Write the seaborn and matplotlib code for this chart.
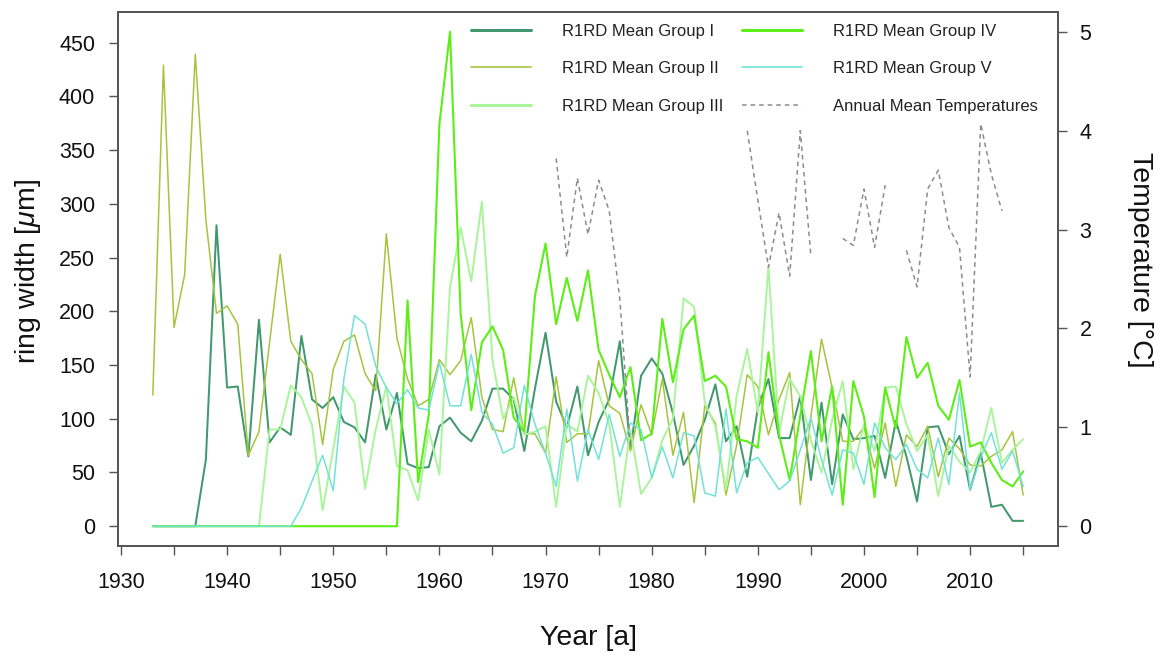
import numpy as np
import pandas as pd
import matplotlib
matplotlib.use("Agg")
import matplotlib.pyplot as plt
from matplotlib.lines import Line2D
import seaborn as sns

years = list(range(1933, 2016))

group_i = [0, 0, 0, 0, 0, 62, 280, 129, 130, 65,
           192, 78, 92, 85, 177, 118, 110, 120, 97, 92,
           78, 141, 90, 124, 58, 54, 55, 93, 101, 87,
           79, 98, 128, 128, 118, 70, 128, 180, 116, 92,
           130, 66, 97, 118, 172, 72, 140, 156, 142, 105,
           57, 75, 99, 132, 79, 93, 46, 110, 137, 82,
           82, 121, 43, 115, 39, 104, 81, 82, 84, 45,
           98, 65, 23, 92, 93, 67, 84, 34, 68, 18,
           20, 5, 5]
group_ii = [122, 429, 185, 234, 439, 285, 198, 205, 188, 66,
            88, 171, 253, 172, 155, 142, 76, 146, 172, 178,
            142, 126, 272, 175, 137, 112, 118, 155, 141, 154,
            194, 120, 90, 88, 138, 86, 86, 68, 139, 78,
            86, 86, 154, 112, 105, 70, 113, 85, 137, 66,
            106, 22, 112, 96, 29, 75, 141, 130, 85, 118,
            143, 20, 102, 174, 129, 79, 79, 92, 54, 96,
            37, 85, 74, 93, 46, 82, 72, 57, 56, 65,
            71, 88, 29]
group_iii = [0, 0, 0, 0, 0, 0, 0, 0, 0, 0,
             0, 90, 90, 131, 120, 94, 15, 72, 130, 115,
             35, 90, 130, 56, 52, 24, 90, 48, 222, 278,
             228, 302, 155, 100, 120, 85, 88, 93, 18, 95,
             88, 140, 124, 95, 18, 90, 30, 45, 80, 100,
             212, 204, 115, 93, 34, 121, 165, 106, 242, 87,
             137, 121, 80, 50, 99, 135, 53, 95, 70, 129,
             130, 95, 70, 85, 28, 75, 60, 50, 70, 110,
             59, 71, 81]
group_iv = [0, 0, 0, 0, 0, 0, 0, 0, 0, 0,
            0, 0, 0, 0, 0, 0, 0, 0, 0, 0,
            0, 0, 0, 0, 210, 41, 104, 374, 460, 198,
            108, 171, 186, 164, 101, 88, 214, 263, 188, 231,
            191, 238, 164, 141, 120, 148, 80, 86, 193, 134,
            183, 196, 135, 140, 130, 81, 79, 73, 162, 85,
            43, 103, 163, 79, 130, 20, 135, 102, 27, 129,
            91, 176, 138, 152, 112, 99, 136, 74, 78, 59,
            43, 37, 51]
group_v = [0, 0, 0, 0, 0, 0, 0, 0, 0, 0,
           0, 0, 0, 0, 17, 42, 66, 33, 137, 196,
           188, 149, 129, 114, 127, 110, 108, 152, 112, 112,
           160, 106, 95, 68, 73, 131, 95, 68, 37, 109,
           42, 90, 62, 104, 65, 96, 90, 45, 74, 45,
           87, 84, 31, 28, 109, 31, 59, 64, 49, 34,
           42, 71, 101, 62, 29, 71, 68, 39, 96, 73,
           62, 76, 53, 45, 82, 39, 124, 34, 64, 87,
           53, 70, 37]

nan = np.nan
temperature = [nan, nan, nan, nan, nan, nan, nan, nan, nan, nan,
               nan, nan, nan, nan, nan, nan, nan, nan, nan, nan,
               nan, nan, nan, nan, nan, nan, nan, nan, nan, nan,
               nan, nan, nan, nan, nan, nan, nan, nan, 3.72, 2.72,
               3.52, 2.95, 3.50, 3.19, 2.29, 0.80, nan, nan, nan, nan,
               nan, nan, nan, nan, nan, nan, 4.00, 3.30, 2.62, 3.17,
               2.53, 4.00, 2.73, nan, nan, 2.91, 2.84, 3.41, 2.82, 3.45,
               nan, 2.79, 2.42, 3.41, 3.60, 3.02, 2.82, 1.51, 4.07, 3.56,
               3.19, nan, nan]

group_names = ["R1RD Mean Group I", "R1RD Mean Group II", "R1RD Mean Group III",
               "R1RD Mean Group IV", "R1RD Mean Group V"]
temp_name = "Annual Mean Temperatures"

colors = {
    group_names[0]: "#42996f",
    group_names[1]: "#a6c43c",
    group_names[2]: "#aaf59c",
    group_names[3]: "#5cee16",
    group_names[4]: "#72e2d8",
}
widths = {
    group_names[0]: 1.45,
    group_names[1]: 1.1,
    group_names[2]: 1.4,
    group_names[3]: 1.5,
    group_names[4]: 1.1,
}
temp_color = "#8c8c8c"
temp_dash = (0, (3.0, 2.6))

series = [group_i, group_ii, group_iii, group_iv, group_v]
rings = pd.concat(
    [pd.DataFrame({"year": years, "width": vals, "group": name})
     for name, vals in zip(group_names, series)],
    ignore_index=True,
)

temp = pd.DataFrame({"year": years, "temp": temperature})
temp["segment"] = temp["temp"].isna().cumsum()
temp = temp.dropna()

sns.set_theme(style="white")
plt.rcParams["font.family"] = ["Liberation Sans", "DejaVu Sans"]
plt.rcParams["mathtext.fontset"] = "custom"
plt.rcParams["mathtext.it"] = "Liberation Sans:italic"
plt.rcParams["mathtext.rm"] = "Liberation Sans"

W, H = 1160, 657
fig = plt.figure(figsize=(W / 100, H / 100), dpi=100)
fig.patch.set_facecolor("white")
ax = fig.add_axes([118 / W, 1 - 546 / H, 940 / W, 534 / H])

for name in group_names:
    sns.lineplot(data=rings[rings["group"] == name], x="year", y="width",
                 color=colors[name], linewidth=widths[name], estimator=None,
                 legend=False, ax=ax)

ax.set_xlim(1929.72, 2018.28)
ax.set_ylim(-18.4, 478.4)
ax.set_xticks(list(range(1930, 2016, 5)))
ax.set_xticklabels([str(y) if y % 10 == 0 else "" for y in range(1930, 2016, 5)])
ax.set_yticks(list(range(0, 451, 50)))
ax.set_yticklabels([str(v) for v in range(0, 451, 50)])
ax.set_xlabel("Year [a]", fontsize=20.5)
ax.set_ylabel(r"ring width [$\mu$m]", fontsize=20.5)
ax.xaxis.set_label_coords(0.5, -0.172)
ax.xaxis.label.set_va("center")
ax.yaxis.set_label_coords(-0.0957, 0.515)
ax.yaxis.label.set_va("center")

ax2 = ax.twinx()
sns.lineplot(data=temp, x="year", y="temp", units="segment", estimator=None,
             color=temp_color, linewidth=1.1, linestyle=temp_dash,
             legend=False, ax=ax2)
ax2.set_ylim(-0.2, 5.2)
ax2.set_yticks([0, 1, 2, 3, 4, 5])
ax2.set_ylabel("Temperature [°C]", fontsize=20.5, rotation=270)
ax2.yaxis.set_label_coords(1.0872, 0.535)
ax2.yaxis.label.set_va("center")
ax2.set_xlim(1929.72, 2018.28)

for a in (ax, ax2):
    for sp in a.spines.values():
        sp.set_color("#555555")
        sp.set_linewidth(1.3)
    a.tick_params(direction="out", length=6.5, width=1.0, color="#555555",
                  labelsize=15.5, labelcolor="#111111")
ax.tick_params(axis="y", left=True, right=False, pad=10)
ax.tick_params(axis="x", bottom=True, pad=12)
ax2.tick_params(axis="y", right=True, left=False, pad=9)
for lab in (ax.xaxis.label, ax.yaxis.label, ax2.yaxis.label):
    lab.set_color("#111111")

handles = [
    Line2D([], [], color=colors[group_names[0]], lw=2.2),
    Line2D([], [], color=colors[group_names[1]], lw=1.2),
    Line2D([], [], color=colors[group_names[2]], lw=2.2),
    Line2D([], [], color=colors[group_names[3]], lw=2.2),
    Line2D([], [], color=colors[group_names[4]], lw=1.2),
    Line2D([], [], color=temp_color, lw=1.1, linestyle=temp_dash),
]
labels = group_names + [temp_name]
leg = ax2.legend(handles, labels, ncol=2, frameon=False, loc="upper left",
                 bbox_to_anchor=(0.375, 0.978), fontsize=12,
                 handlelength=3.6, handletextpad=1.9, columnspacing=1.08,
                 labelspacing=1.35, borderpad=0.0, borderaxespad=0.0)
for t in leg.get_texts():
    t.set_color("#222222")

fig.savefig("out.png", dpi=100, facecolor="white")
